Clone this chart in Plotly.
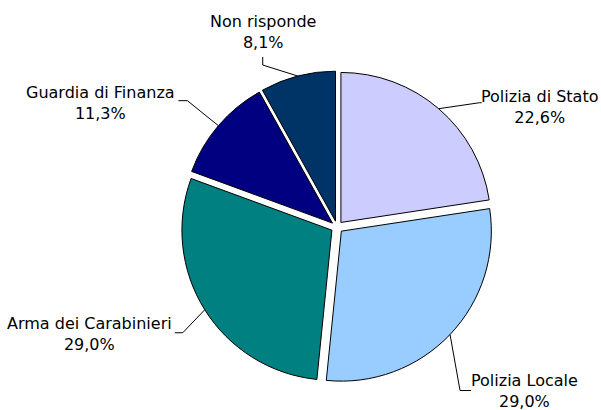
import math
import plotly.graph_objects as go

# ---- data ----
labels = ["Polizia di Stato", "Polizia Locale", "Arma dei Carabinieri",
          "Guardia di Finanza", "Non risponde"]
values = [22.6, 29.0, 29.0, 11.3, 8.1]
colors = ["#CCCCFF", "#99CCFF", "#008080", "#000080", "#003366"]

# ---- layout geometry (pixels) ----
W, H = 601, 410
PULL = 0.04
CX, CY, R = 337, 227, 150
half = R * (1 + PULL)
dom_x = [(CX - 180) / W, (CX + 180) / W]
dom_y = [(H - (CY + half)) / H, (H - (CY - half)) / H]

# leader line offsets from the arc point: elbow, end, text centre
label_geom = [
    ((41, -6), (43, -6), (101, -2)),
    ((10, 56), (21, 56), (74, 56)),
    ((-22, 23), (-30, 23), (-115, 24)),
    ((-31, -25), (-40, -25), (-118, -23)),
    ((-35, -11), (-35, -19), (-35, -44)),
]

fig = go.Figure(go.Pie(
    labels=labels, values=values, sort=False, direction="clockwise", rotation=0,
    pull=[PULL] * len(values),
    marker=dict(colors=colors, line=dict(color="#000000", width=1)),
    textinfo="none", hoverinfo="label+percent", showlegend=False,
    domain=dict(x=dom_x, y=dom_y),
))

def px2paper(x, y):
    return x / W, 1 - y / H

total = sum(values)
cum = 0.0
shapes, annots = [], []
for lab, v, geom in zip(labels, values, label_geom):
    mid = (cum + v / 2) / total
    cum += v
    th = 2 * math.pi * mid
    dx, dy = math.sin(th), -math.cos(th)
    ax = CX + PULL * R * dx + R * dx
    ay = CY + PULL * R * dy + R * dy
    (ex, ey), (fx, fy), (tx, ty) = geom
    pts = [(ax, ay), (ax + ex, ay + ey), (ax + fx, ay + fy)]
    pp = [px2paper(*p) for p in pts]
    path = "M {} {} L {} {} L {} {}".format(pp[0][0], pp[0][1], pp[1][0], pp[1][1], pp[2][0], pp[2][1])
    shapes.append(dict(type="path", xref="paper", yref="paper", path=path,
                       line=dict(color="#000000", width=1)))
    px, py = px2paper(ax + tx, ay + ty)
    pct = f"{v:.1f}".replace(".", ",") + "%"
    annots.append(dict(x=px, y=py, xref="paper", yref="paper", showarrow=False,
                       text=f"{lab}<br>{pct}", align="center",
                       xanchor="center", yanchor="middle",
                       font=dict(family="DejaVu Sans", size=16, color="#000000")))

fig.update_layout(
    width=W, height=H, margin=dict(l=0, r=0, t=0, b=0),
    paper_bgcolor="white", plot_bgcolor="white",
    shapes=shapes, annotations=annots,
)
fig.write_html("out.html", config={"displayModeBar": False},
               post_script="document.body.style.margin='0';document.body.style.overflow='hidden';")
